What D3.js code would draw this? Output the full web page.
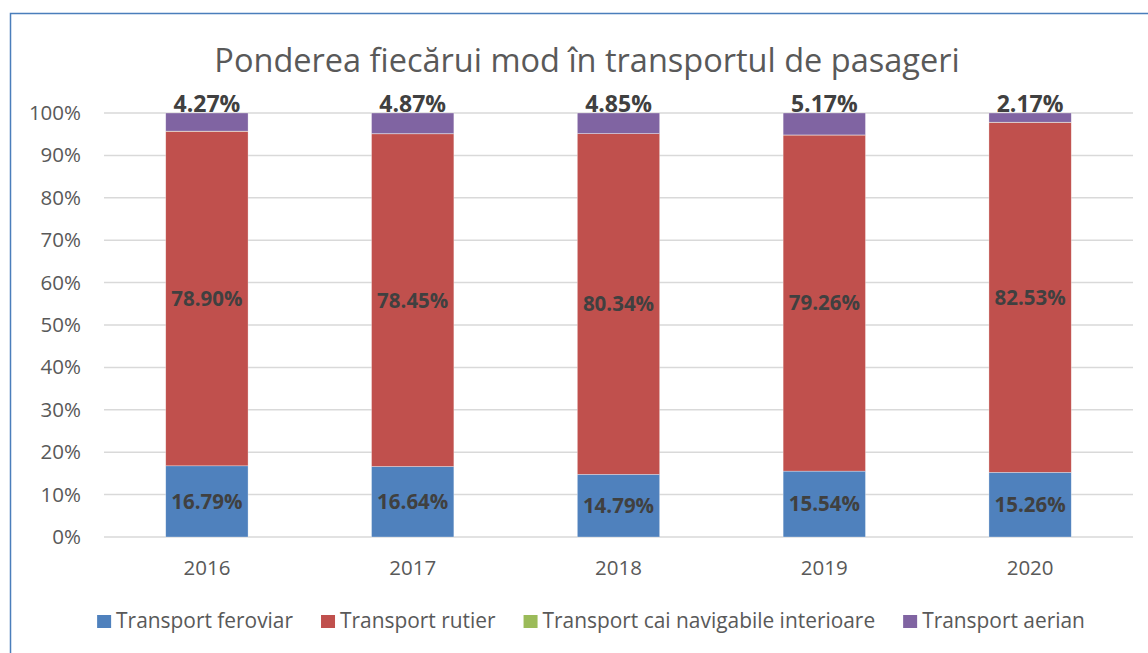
<!DOCTYPE html>
<html lang="ro">
<head>
  <meta charset="UTF-8">
  <title>Ponderea fiecarui mod in transportul de pasageri</title>
  <script src="https://cdn.jsdelivr.net/npm/d3@7"></script>
  <style>
    body { margin: 0; background: #fff; }
    text { font-family: "Open Sans", "Noto Sans", sans-serif; }
  </style>
</head>
<body>
  <svg id="svg" width="1148" height="653"></svg>

  <script>
    // Data (percent shares)
    const years = ['2016', '2017', '2018', '2019', '2020']
    const feroviar = [16.79, 16.64, 14.79, 15.54, 15.26]
    const rutier = [78.90, 78.45, 80.34, 79.26, 82.53]
    const navigabile = [0.04, 0.04, 0.02, 0.03, 0.04]
    const aerian = [4.27, 4.87, 4.85, 5.17, 2.17]
    const seriesNames = ['Transport feroviar', 'Transport rutier', 'Transport cai navigabile interioare', 'Transport aerian']
    const yTicks = [0, 0.1, 0.2, 0.3, 0.4, 0.5, 0.6, 0.7, 0.8, 0.9, 1]

    const keys = ['feroviar', 'rutier', 'navigabile', 'aerian']
    const colors = ['#4F81BD', '#C0504D', '#9BBB59', '#8064A2']

    // build rows for d3.stack
    const rows = years.map((year, i) => ({
      year,
      feroviar: feroviar[i] / 100,
      rutier: rutier[i] / 100,
      navigabile: navigabile[i] / 100,
      aerian: aerian[i] / 100
    }))

    const svg = d3.select('#svg')

    // chart frame
    svg.append('rect')
      .attr('x', 10.5).attr('y', 13.5)
      .attr('width', 1160).attr('height', 660)
      .attr('fill', 'none')
      .attr('stroke', '#4A7EBB')
      .attr('stroke-width', 1.5)

    const xscale = d3.scaleBand()
      .domain(years)
      .range([104, 1133])
      .paddingInner(0.6)
      .paddingOuter(0.3)

    const yscale = d3.scaleLinear()
      .domain([0, 1])
      .range([537, 113])

    const colorscale = d3.scaleOrdinal().domain(keys).range(colors)

    // gridlines
    svg.append('g')
      .selectAll('line')
      .data(yTicks)
      .join('line')
      .attr('x1', 104).attr('x2', 1133)
      .attr('y1', d => yscale(d)).attr('y2', d => yscale(d))
      .attr('stroke', '#D9D9D9')
      .attr('stroke-width', 1.5)

    // y axis labels
    const yAxis = svg.append('g')
      .attr('transform', 'translate(81, 0)')
      .call(d3.axisLeft(yscale).tickValues(yTicks).tickFormat(d3.format('.0%')).tickSize(0).tickPadding(0))
    yAxis.select('.domain').remove()
    yAxis.selectAll('text')
      .attr('fill', '#595959')
      .style('font-size', '20.5px')
      .style('font-family', '"Open Sans", sans-serif')

    // x axis labels
    const xAxis = svg.append('g')
      .attr('transform', 'translate(0, 537)')
      .call(d3.axisBottom(xscale).tickSize(0).tickPadding(23))
    xAxis.select('.domain').remove()
    xAxis.selectAll('text')
      .attr('fill', '#595959')
      .style('font-size', '20.5px')
      .style('font-family', '"Open Sans", sans-serif')

    // stacked bars
    const stacked = d3.stack().keys(keys)(rows)

    const layers = svg.append('g')
      .selectAll('g')
      .data(stacked)
      .join('g')
      .attr('fill', d => colorscale(d.key))

    layers.selectAll('rect')
      .data(d => d)
      .join('rect')
      .attr('x', d => xscale(d.data.year))
      .attr('y', d => yscale(d[1]))
      .attr('height', d => yscale(d[0]) - yscale(d[1]))
      .attr('width', xscale.bandwidth())
      .attr('stroke', '#fff')
      .attr('stroke-width', 0.6)
      .attr('stroke-opacity', 0.5)

    // data labels
    const fmt = v => (v * 100).toFixed(2) + '%'
    const labelled = stacked.filter(s => s.key !== 'navigabile')
    labelled.forEach(s => {
      const top = s.key === 'aerian'
      svg.append('g')
        .selectAll('text')
        .data(s)
        .join('text')
        .attr('x', d => xscale(d.data.year) + xscale.bandwidth() / 2)
        .attr('y', d => top ? yscale(d[1]) - 1 : (yscale(d[0]) + yscale(d[1])) / 2)
        .attr('dy', top ? 0 : '0.36em')
        .attr('text-anchor', 'middle')
        .attr('fill', '#404040')
        .style('font-size', top ? '23px' : '20.5px')
        .style('font-weight', 'bold')
        .text(d => fmt(d[1] - d[0]))
    })

    // title, scaled to match the original width
    const title = svg.append('text')
      .attr('x', 587)
      .attr('y', 72)
      .attr('text-anchor', 'middle')
      .attr('fill', '#595959')
      .style('font-size', '30px')
      .text('Ponderea fiecărui mod în transportul de pasageri')
    const tw = title.node().getComputedTextLength()
    title.style('font-size', (30 * 745 / tw).toFixed(1) + 'px')

    // legend
    const legend = svg.append('g')
    const items = legend.selectAll('g')
      .data(seriesNames)
      .join('g')
    items.append('rect')
      .attr('width', 14).attr('height', 13)
      .attr('y', 615)
      .attr('fill', (d, i) => colors[i])
    const legendText = items.append('text')
      .attr('x', 19)
      .attr('y', 628)
      .attr('fill', '#595959')
      .style('font-size', '19px')
      .text(d => d)
    // fit legend text to the original overall width
    const gap = 28
    let textSum = 0
    legendText.each(function () { textSum += this.getComputedTextLength() })
    const wantText = 988 - 3 * gap - 4 * 19
    const legendSize = 19 * wantText / textSum
    legendText.style('font-size', legendSize.toFixed(1) + 'px')
    let cursor = 0
    const offsets = []
    items.each(function () {
      offsets.push(cursor)
      const w = d3.select(this).select('text').node().getComputedTextLength()
      cursor += 19 + w + gap
    })
    const total = cursor - gap
    const start = 591 - total / 2
    items.attr('transform', (d, i) => `translate(${start + offsets[i]}, 0)`)
  </script>
</body>
</html>
